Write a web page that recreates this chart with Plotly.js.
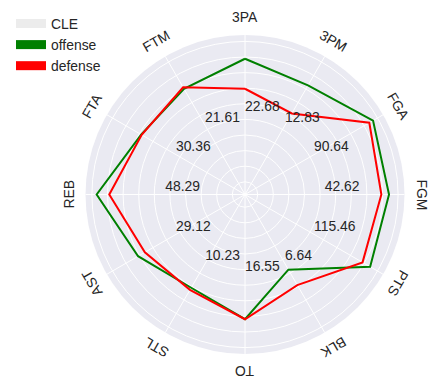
<!DOCTYPE html>
<html><head><meta charset="utf-8">
<script src="https://cdn.plot.ly/plotly-3.0.1.min.js"></script>
<style>html,body{margin:0;padding:0;background:#fff;} #chart{width:437px;height:388px;}</style>
</head><body><div id="chart"></div>
<script>
// Categories (clockwise from top)
const categories = ['3PA','3PM','FGA','FGM','PTS','BLK','TO','STL','AST','REB','FTA','FTM'];
// Values as a fraction of each axis' full scale
const offense = [0.851,0.790,0.927,0.903,0.906,0.544,0.782,0.675,0.774,0.930,0.752,0.765];
const defense = [0.663,0.587,0.900,0.855,0.851,0.656,0.782,0.690,0.725,0.851,0.748,0.776];
// Per-axis scale labels drawn inside the chart
const axisLabels = ['22.68','12.83','90.64','42.62','115.46','6.64','16.55','10.23','29.12','48.29','30.36','21.61'];
const legendNames = ['CLE','offense','defense'];

const W = 437, H = 388;
const CX = 245, CY = 194.5, R = 159.5;
const FONT = 'Liberation Sans, Arial, sans-serif';
const TXT = '#262626';
const fsz = 13.9;

function closed(a){ return a.concat([a[0]]); }

const traces = [
  // legend-only entries (patch style)
  {type:'scatterpolar', r:[null], theta:[categories[0]], name:legendNames[0], mode:'lines',
   line:{color:'#ececec', width:9}, hoverinfo:'skip'},
  {type:'scatterpolar', r:[null], theta:[categories[0]], name:legendNames[1], mode:'lines',
   line:{color:'#008000', width:9}, hoverinfo:'skip'},
  {type:'scatterpolar', r:[null], theta:[categories[0]], name:legendNames[2], mode:'lines',
   line:{color:'#ff0000', width:9}, hoverinfo:'skip'},
  // data lines
  {type:'scatterpolar', r:closed(offense), theta:closed(categories), mode:'lines',
   line:{color:'#008000', width:2}, showlegend:false, name:'offense'},
  {type:'scatterpolar', r:closed(defense), theta:closed(categories), mode:'lines',
   line:{color:'#ff0000', width:2}, showlegend:false, name:'defense'},
  // per-axis labels
  {type:'scatterpolar', r:categories.map(()=>0.5), theta:categories, mode:'text', text:axisLabels,
   textposition:'top right', textfont:{family:FONT, size:fsz, color:TXT}, showlegend:false,
   hoverinfo:'skip', cliponaxis:false}
];

const annotations = categories.map((c,i)=>{
  const th = i*30*Math.PI/180;
  const rl = 177;
  return {xref:'paper', yref:'paper', x:(CX + rl*Math.sin(th))/W, y:1-(CY - rl*Math.cos(th))/H,
    text:c, showarrow:false, xanchor:'center', yanchor:'middle', textangle:i*30,
    font:{family:FONT, size:fsz, color:TXT}};
});

const layout = {
  width:W, height:H, margin:{l:0,r:0,t:0,b:0},
  paper_bgcolor:'#ffffff',
  font:{family:FONT, size:fsz, color:TXT},
  showlegend:true,
  legend:{x:11/W, y:1-8/H, xanchor:'left', yanchor:'top', bgcolor:'rgba(0,0,0,0)',
    font:{family:FONT, size:fsz, color:TXT}, traceorder:'normal', itemwidth:30, tracegroupgap:0},
  polar:{
    domain:{x:[(CX-R)/W,(CX+R)/W], y:[1-(CY+R)/H, 1-(CY-R)/H]},
    bgcolor:'#EAEAF2',
    radialaxis:{range:[0,1], tickmode:'linear', tick0:0.0796, dtick:0.0978, showticklabels:false,
      ticks:'', showline:false, gridcolor:'#ffffff', gridwidth:1},
    angularaxis:{type:'category', categoryarray:categories, categoryorder:'array', rotation:90,
      direction:'clockwise', showticklabels:false, ticks:'', showline:false, gridcolor:'#ffffff', gridwidth:1}
  },
  annotations:annotations
};

Plotly.newPlot('chart', traces, layout, {displayModeBar:false, staticPlot:true});
</script>
</body></html>
